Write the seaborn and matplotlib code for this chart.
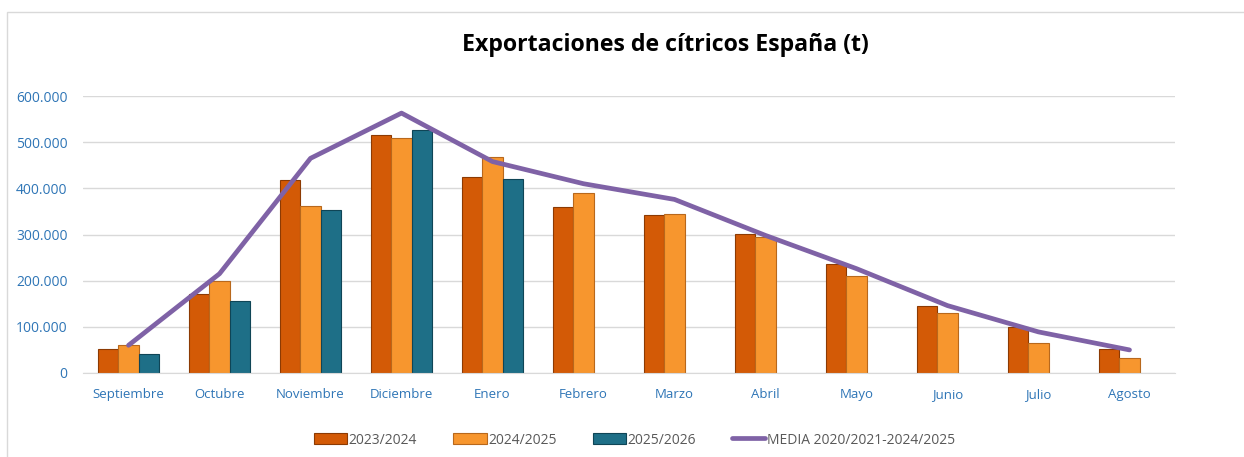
import numpy as np
import pandas as pd
import matplotlib
matplotlib.use("Agg")
import matplotlib.pyplot as plt
import seaborn as sns
from matplotlib.patches import Patch, Rectangle
from matplotlib.lines import Line2D
from matplotlib.ticker import FuncFormatter

months = ["Septiembre", "Octubre", "Noviembre", "Diciembre", "Enero", "Febrero",
          "Marzo", "Abril", "Mayo", "Junio", "Julio", "Agosto"]
s2324 = [51000, 171000, 418000, 515000, 425000, 360000, 343000, 301000, 237000, 146000, 100000, 51000]
s2425 = [61000, 200000, 362000, 508000, 468000, 390000, 345000, 295000, 210000, 129000, 66000, 33000]
s2526 = [42000, 155000, 354000, 527000, 420000, np.nan, np.nan, np.nan, np.nan, np.nan, np.nan, np.nan]
media = [60000, 215000, 465000, 563000, 458000, 410000, 376000, 298000, 226000, 146000, 89000, 50000]
series_names = ["2023/2024", "2024/2025", "2025/2026"]
media_name = "MEDIA 2020/2021-2024/2025"

colors = ["#D35A06", "#F7962E", "#1E6F87"]
edges = ["#8C3A03", "#B8681C", "#0F4556"]
line_color = "#7F62A6"

df = pd.DataFrame({
    "mes": months * 3,
    "campaña": sum([[n] * len(months) for n in series_names], []),
    "t": s2324 + s2425 + s2526,
})

sns.set_style("white")
plt.rcParams["font.family"] = ["Open Sans", "DejaVu Sans"]

fig = plt.figure(figsize=(12.44, 4.57), dpi=100)
ax = fig.add_axes([83 / 1244, 1 - 373 / 457, (1175 - 83) / 1244, (373 - 96) / 457])

sns.barplot(data=df, x="mes", y="t", hue="campaña", order=months,
            hue_order=series_names, palette=colors, width=0.68,
            dodge=True, ax=ax, legend=False, saturation=1)

for cont, ec in zip(ax.containers, edges):
    for bar in cont:
        bar.set_edgecolor(ec)
        bar.set_linewidth(0.8)

sns.lineplot(x=np.arange(len(months)), y=media, ax=ax, color=line_color,
             linewidth=3.4, legend=False, zorder=5)

ax.set_xlim(-0.5, len(months) - 0.5)
ax.set_ylim(0, 600000)
ax.set_yticks(np.arange(0, 600001, 100000))
ax.yaxis.set_major_formatter(FuncFormatter(lambda v, p: f"{int(v):,}".replace(",", ".")))
ax.grid(axis="y", color="#D9D9D9", linewidth=1)
ax.set_axisbelow(True)
for s in ["top", "right", "left"]:
    ax.spines[s].set_visible(False)
ax.spines["bottom"].set_color("#D9D9D9")
ax.tick_params(axis="x", length=0, labelsize=9.5, colors="#2E75B6", pad=11)
ax.tick_params(axis="y", length=0, labelsize=10, colors="#2E75B6", pad=11)
ax.set_xlabel("")
ax.set_ylabel("")

fig.text(0.535, 1 - 45 / 457, "Exportaciones de cítricos España (t)",
         ha="center", va="center", fontsize=16.7, fontweight="bold", color="black")

handles = [Patch(facecolor=c, edgecolor=e, linewidth=0.8) for c, e in zip(colors, edges)]
handles.append(Line2D([0], [0], color=line_color, linewidth=3.4))
fig.legend(handles, series_names + [media_name], loc="center",
           bbox_to_anchor=(0.51, 1 - 440 / 457), ncol=4, frameon=False,
           fontsize=10, labelcolor="#595959", handlelength=2.4, handleheight=0.8,
           handletextpad=0.1, columnspacing=2.6)

fig.patches.append(Rectangle((6.5 / 1244, -0.1), 1.2, 1 - 12.5 / 457 + 0.1,
                             transform=fig.transFigure, fill=False,
                             edgecolor="#D9D9D9", linewidth=1))

fig.savefig("out.png", dpi=100)
